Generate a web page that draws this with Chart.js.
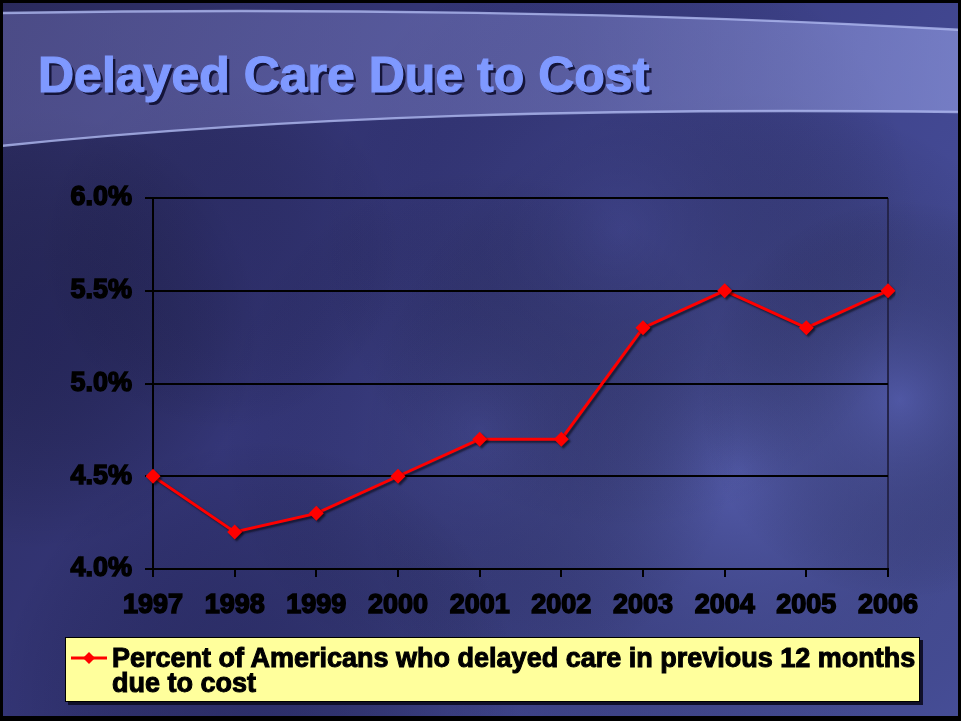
<!DOCTYPE html>
<html>
<head>
<meta charset="utf-8">
<script src="https://cdn.jsdelivr.net/npm/chart.js@4/dist/chart.umd.min.js"></script>
<style>
  body { margin: 0; background: #000; }
  #wrap { position: relative; width: 961px; height: 721px; overflow: hidden; }
  #chart { position: absolute; left: 0; top: 0; }
  #title {
    position: absolute; left: 38px; top: 50px;
    font: bold 50px "Liberation Sans", Arial, sans-serif; line-height: 50px;
    color: #7f99ff; white-space: nowrap;
    -webkit-text-stroke: 1.2px #7f99ff;
    text-shadow: 3px 3px 0 #15153a;
  }
  #legend {
    position: absolute; left: 65px; top: 637px; width: 855px; height: 65px;
    box-sizing: border-box; background: #ffff9c; border: 1.5px solid #000;
    box-shadow: 3px 3px 0 #10102a;
  }
  #legend svg { position: absolute; left: 4px; top: 12px; }
  #legend .txt {
    position: absolute; left: 46px; top: 8px;
    font: bold 27px "Liberation Sans", Arial, sans-serif; line-height: 25px;
    color: #000; white-space: nowrap; -webkit-text-stroke: 1px #000;
  }
</style>
</head>
<body>
<div id="wrap">
  <canvas id="chart" width="961" height="721"></canvas>
  <div id="title">Delayed Care Due to Cost</div>
  <div id="legend">
    <svg width="38" height="16"><line x1="1" y1="8" x2="37" y2="8" stroke="#ff0000" stroke-width="3"/><path d="M19 2 L25 8 L19 14 L13 8 Z" fill="#ff0000"/></svg>
    <div class="txt" id="legendText"></div>
  </div>
</div>
<script>
var years = ['1997', '1998', '1999', '2000', '2001', '2002', '2003', '2004', '2005', '2006']
var delayed = [4.5, 4.2, 4.3, 4.5, 4.7, 4.7, 5.3, 5.5, 5.3, 5.5]
var seriesName = 'Percent of Americans who delayed care in previous 12 months'
var seriesName2 = 'due to cost'

document.getElementById('legendText').innerHTML = seriesName + '<br>' + seriesName2

// slide background: dark blue sky with a light swoosh at top
const backdrop = {
  id: 'backdrop',
  beforeDraw(chart) {
    const ctx = chart.ctx
    const w = chart.width, h = chart.height
    ctx.save()
    ctx.fillStyle = '#000'
    ctx.fillRect(0, 0, w, h)
    let g = ctx.createLinearGradient(0, 0, w, h * 0.8)
    g.addColorStop(0, '#2a2a5c')
    g.addColorStop(0.4, '#35377a')
    g.addColorStop(1, '#4a52a0')
    ctx.fillStyle = g
    ctx.fillRect(3, 3, w - 6, h - 8)
    ctx.beginPath()
    ctx.rect(3, 3, w - 6, h - 8)
    ctx.clip()
    const spots = [
      [740, 470, 380, 'rgba(100,110,195,0.5)'],
      [480, 430, 260, 'rgba(85,92,175,0.3)'],
      [900, 400, 200, 'rgba(100,110,200,0.4)'],
      [620, 230, 300, 'rgba(75,80,160,0.3)'],
      [40, 330, 220, 'rgba(20,20,60,0.35)'],
      [260, 700, 260, 'rgba(25,25,70,0.4)'],
      [220, 250, 180, 'rgba(30,30,80,0.25)']
    ]
    spots.forEach(function (s) {
      const r = ctx.createRadialGradient(s[0], s[1], 0, s[0], s[1], s[2])
      r.addColorStop(0, s[3])
      r.addColorStop(1, 'rgba(0,0,0,0)')
      ctx.fillStyle = r
      ctx.fillRect(0, 0, w, h)
    })
    // swoosh band
    ctx.beginPath()
    ctx.moveTo(0, 13)
    ctx.bezierCurveTo(300, 8, 650, 12, w, 30)
    ctx.lineTo(w, 112)
    ctx.bezierCurveTo(600, 108, 300, 115, 0, 146)
    ctx.closePath()
    g = ctx.createLinearGradient(0, 0, w, 0)
    g.addColorStop(0, 'rgba(115,115,185,0.45)')
    g.addColorStop(0.6, 'rgba(135,140,210,0.45)')
    g.addColorStop(1, 'rgba(150,160,230,0.6)')
    ctx.fillStyle = g
    ctx.fill()
    ctx.lineWidth = 2.5
    ctx.strokeStyle = 'rgba(175,185,240,0.8)'
    ctx.beginPath()
    ctx.moveTo(0, 13)
    ctx.bezierCurveTo(300, 8, 650, 12, w, 30)
    ctx.stroke()
    ctx.beginPath()
    ctx.moveTo(w, 112)
    ctx.bezierCurveTo(600, 108, 300, 115, 0, 146)
    ctx.stroke()
    ctx.restore()
  }
}

// soft dark shadow under the red line
const lineShadow = {
  id: 'lineShadow',
  beforeDatasetsDraw(chart) {
    const ctx = chart.ctx
    ctx.save()
    ctx.shadowColor = 'rgba(0,0,0,0.55)'
    ctx.shadowOffsetX = 2
    ctx.shadowOffsetY = 2
    ctx.shadowBlur = 2
  },
  afterDatasetsDraw(chart) {
    chart.ctx.restore()
  }
}

const tickFont = { family: '"Liberation Sans", Arial, sans-serif', size: 27, weight: 'bold' }

const ctx = document.getElementById('chart').getContext('2d')
const myChart = new Chart(ctx, {
  type: 'line',
  data: {
    labels: years,
    datasets: [{
      label: seriesName + ' ' + seriesName2,
      data: delayed,
      borderColor: '#ff0000',
      backgroundColor: '#ff0000',
      borderWidth: 3,
      pointStyle: 'rectRot',
      pointRadius: 7.5,
      pointBorderWidth: 0,
      pointHoverRadius: 7.5,
      tension: 0
    }]
  },
  options: {
    responsive: false,
    animation: false,
    devicePixelRatio: 1,
    layout: { padding: { top: 198, right: 73, left: 0, bottom: 0 } },
    plugins: {
      legend: { display: false },
      title: { display: false },
      tooltip: { enabled: false }
    },
    scales: {
      x: {
        offset: false,
        afterFit(scale) { scale.height = 152 },
        grid: {
          color(c) { return c.index === years.length - 1 ? '#24244a' : 'rgba(0,0,0,0)' },
          lineWidth: 2,
          tickColor: '#000',
          tickLength: 8,
          tickWidth: 2
        },
        border: { color: '#000', width: 2 },
        ticks: {
          color: '#000', font: tickFont, padding: 12,
          textStrokeColor: '#000', textStrokeWidth: 1.5,
          maxRotation: 0, autoSkip: false
        }
      },
      y: {
        min: 4.0,
        max: 6.0,
        afterFit(scale) { scale.width = 153 },
        grid: { color: '#000', lineWidth: 2, tickLength: 8, tickColor: '#000' },
        border: { color: '#000', width: 2 },
        ticks: {
          stepSize: 0.5, color: '#000', font: tickFont, padding: 13,
          textStrokeColor: '#000', textStrokeWidth: 1.5,
          callback(v) { return v.toFixed(1) + '%' }
        }
      }
    }
  },
  plugins: [backdrop, lineShadow]
})
</script>
</body>
</html>
